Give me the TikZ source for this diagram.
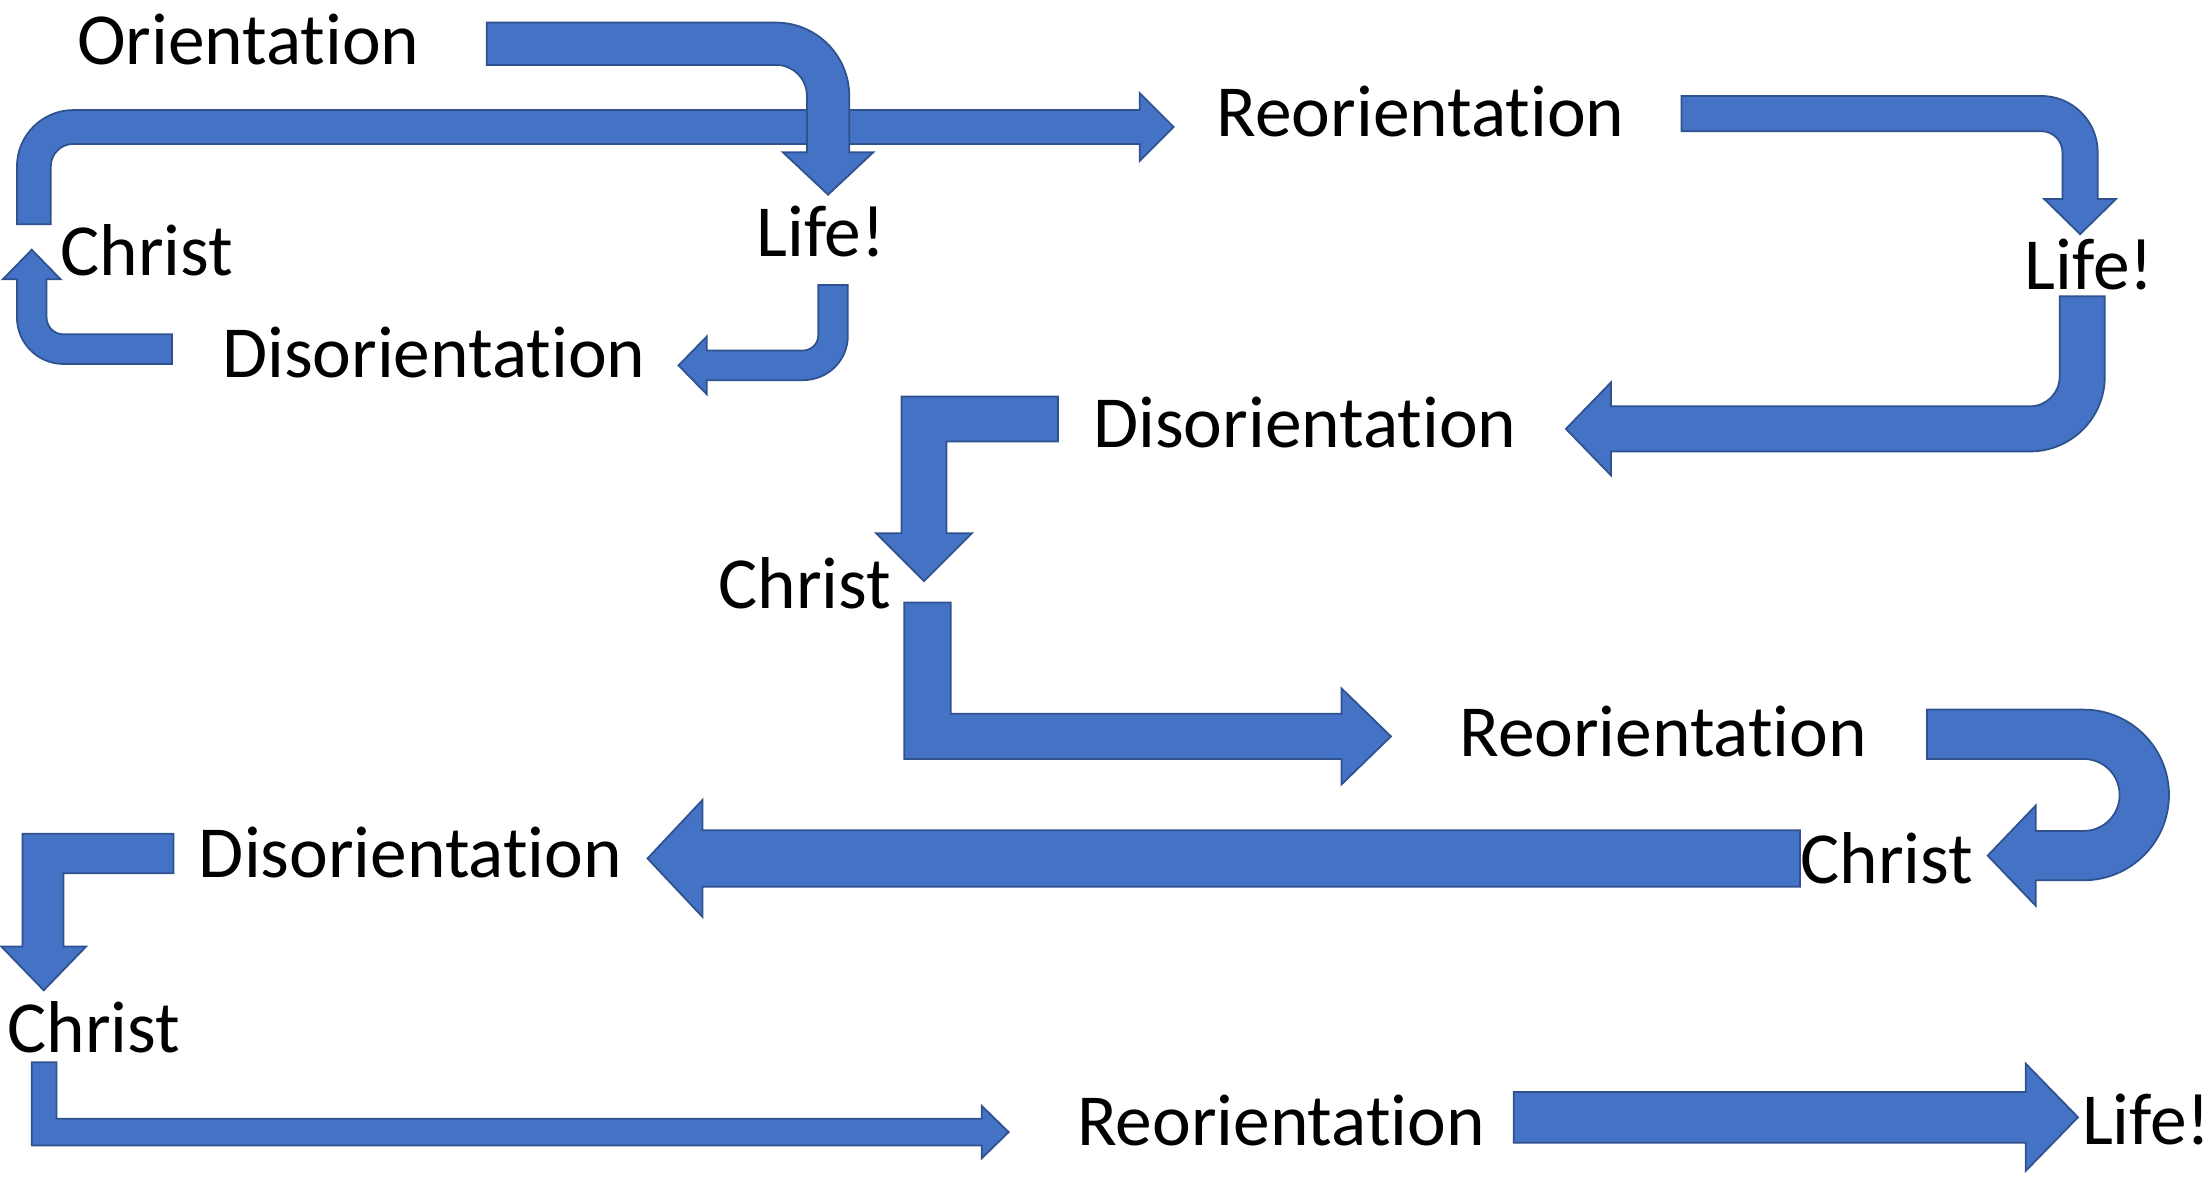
\documentclass[tikz,border=0pt]{standalone}
\usepackage{fontspec}
\setmainfont{Carlito}[RawFeature={-liga;-clig;-calt;-dlig}]
\definecolor{arrfill}{HTML}{4472C4}
\definecolor{arrline}{HTML}{2F528F}
\begin{document}
\begin{tikzpicture}[x=0.014107cm,y=-0.014107cm,
  blockarrow/.style={fill=arrfill,draw=arrline,line width=0.5pt,line join=miter},
  lbl/.style={inner sep=0pt,outer sep=0pt,anchor=base,font=\fontsize{20.9}{24}\selectfont}]
\useasboundingbox (0,0) rectangle (1568,834);

% labels
\node[lbl] (orient) at (176,45.7) {Orientation};
\node[lbl] (christA) at (104,195) {Christ};
\node[lbl] (lifeA) at (582,182) {Life!};
\node[lbl] (disA) at (307.5,267.6) {Disorientation};
\node[lbl] (reA) at (1007,96.8) {Reorientation};
\node[lbl] (lifeB) at (1481,205) {Life!};
\node[lbl] (disB) at (925,317) {Disorientation};
\node[lbl] (christB) at (570.5,431) {Christ};
\node[lbl] (reB) at (1179,536) {Reorientation};
\node[lbl] (christC) at (1337.5,626) {Christ};
\node[lbl] (disC) at (291,622) {Disorientation};
\node[lbl] (christD) at (66.5,746) {Christ};
\node[lbl] (reC) at (908,812) {Reorientation};
\node[lbl] (lifeC) at (1521.5,811) {Life!};

% A: Christ -> Reorientation (top long)
\draw[blockarrow] (12,159) -- (12,118) .. controls (12,96) and (30,78) .. (52,78)
  -- (808,78) -- (808,66) -- (832,90) -- (808,114) -- (808,102) -- (52,102)
  .. controls (43.2,102) and (36,109.2) .. (36,118) -- (36,159) -- cycle;

% B: Orientation -> Life!
\draw[blockarrow] (345,16) -- (550,16) .. controls (578.7,16) and (602,39.3) .. (602,68)
  -- (602,108) -- (619,108) -- (587,138) -- (555,108) -- (572,108) -- (572,68)
  .. controls (572,55.8) and (562.2,46) .. (550,46) -- (345,46) -- cycle;

% C: Disorientation -> Christ (small, left)
\draw[blockarrow] (122,237) -- (45,237) .. controls (38.4,237) and (33,231.6) .. (33,225)
  -- (33,198) -- (43,198) -- (22.5,177) -- (2,198) -- (12,198) -- (12,225)
  .. controls (12,243.2) and (26.8,258) .. (45,258) -- (122,258) -- cycle;

% D: Life! -> Disorientation (small)
\draw[blockarrow] (580,202) -- (601,202) -- (601,238) .. controls (601,255.7) and (586.7,269.5) .. (569,269.5)
  -- (501,269.5) -- (501,279.5) -- (481,259) -- (501,238.5) -- (501,248.5) -- (569,248.5)
  .. controls (575.1,248.5) and (580,243.6) .. (580,238) -- cycle;

% E: Reorientation -> Life! (right)
\draw[blockarrow] (1192,68) -- (1447,68) .. controls (1469.1,68) and (1487,85.9) .. (1487,108)
  -- (1487,141) -- (1500,141) -- (1474.5,166) -- (1449,141) -- (1462,141) -- (1462,108)
  .. controls (1462,99.7) and (1455.3,93) .. (1447,93) -- (1192,93) -- cycle;

% F: Life! -> Disorientation (mid)
\draw[blockarrow] (1460,210) -- (1492,210) -- (1492,267) .. controls (1492,296.3) and (1468.3,320) .. (1439,320)
  -- (1142,320) -- (1142,337) -- (1110,304) -- (1142,271) -- (1142,288) -- (1439,288)
  .. controls (1450.6,288) and (1460,278.6) .. (1460,267) -- cycle;

% G: Disorientation -> Christ (mid)
\draw[blockarrow] (750,281) -- (750,313) -- (671,313) -- (671,378) -- (689,378) -- (655,412)
  -- (621,378) -- (639,378) -- (639,281) -- cycle;

% H: Christ -> Reorientation (mid)
\draw[blockarrow] (641,427) -- (674,427) -- (674,506) -- (951,506) -- (951,488) -- (986,522)
  -- (951,556) -- (951,538) -- (641,538) -- cycle;

% I: Reorientation -> Christ (U-turn)
\draw[blockarrow] (1366,503) -- (1477,503) .. controls (1510.4,503) and (1537.5,530.1) .. (1537.5,563.5)
  .. controls (1537.5,596.9) and (1510.4,624) .. (1477,624)
  -- (1443,624) -- (1443,642) -- (1409,606.5) -- (1443,571) -- (1443,589) -- (1477,589)
  .. controls (1491.1,589) and (1502.5,577.6) .. (1502.5,563.5)
  .. controls (1502.5,549.4) and (1491.1,538) .. (1477,538) -- (1366,538) -- cycle;

% J: Christ -> Disorientation (long left)
\draw[blockarrow] (1276,588.5) -- (498,588.5) -- (498,567) -- (459,608.5) -- (498,650)
  -- (498,628.5) -- (1276,628.5) -- cycle;

% K: Disorientation -> Christ (lower left)
\draw[blockarrow] (123,591) -- (123,619) -- (45,619) -- (45,671) -- (61,671) -- (31,702)
  -- (1,671) -- (16,671) -- (16,591) -- cycle;

% L: Christ -> Reorientation (bottom)
\draw[blockarrow] (22.5,753) -- (40,753) -- (40,793) -- (696,793) -- (696,784) -- (715,802.5)
  -- (696,821) -- (696,812) -- (22.5,812) -- cycle;

% M: Reorientation -> Life! (bottom right)
\draw[blockarrow] (1073,774) -- (1436,774) -- (1436,754) -- (1473,792) -- (1436,830)
  -- (1436,810) -- (1073,810) -- cycle;
\end{tikzpicture}
\end{document}
